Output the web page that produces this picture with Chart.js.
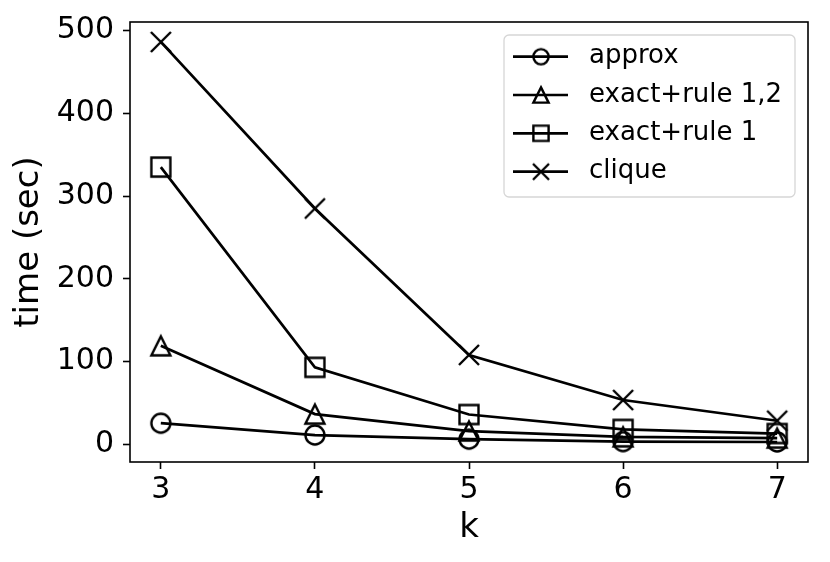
<!DOCTYPE html>
<html><head><meta charset="utf-8">
<script src="https://cdn.jsdelivr.net/npm/chart.js@4.4.1/dist/chart.umd.min.js"></script>
<style>html,body{margin:0;padding:0;background:#fff;overflow:hidden}#wrap{width:830px;height:562px}</style>
</head><body><div id="wrap"><canvas id="c" width="830" height="562"></canvas></div>
<script>
// ---- data ----
const kValues = [3, 4, 5, 6, 7];
const approx = [25.5, 11.2, 6.2, 3.2, 2.8];
const exactRule12 = [119, 36.5, 16, 9, 7.5];
const exactRule1 = [335, 93, 36, 18, 13];
const clique = [486.3, 285, 108, 53.5, 28.5];
const yTickValues = [0, 100, 200, 300, 400, 500];
const seriesNames = ['approx', 'exact+rule 1,2', 'exact+rule 1', 'clique'];
const xTitle = 'k';
const yTitle = 'time (sec)';

const FONT = "'DejaVu Sans', 'Liberation Sans', sans-serif";

function makeMarker(type, s) {
  const size = 30;
  const c = document.createElement('canvas');
  c.width = size; c.height = size;
  const g = c.getContext('2d');
  const m = size / 2;
  g.strokeStyle = '#000';
  g.lineWidth = 2.4;
  g.lineJoin = 'miter';
  g.beginPath();
  if (type === 'circle') {
    g.arc(m, m, 9.5 * s, 0, Math.PI * 2);
  } else if (type === 'triangle') {
    const h = 9.5 * s;
    g.moveTo(m, m - h); g.lineTo(m + h, m + h); g.lineTo(m - h, m + h); g.closePath();
  } else if (type === 'square') {
    const h = 9.5 * s;
    g.rect(m - h, m - h, 2 * h, 2 * h);
  } else {
    const h = 10 * s;
    g.moveTo(m - h, m - h); g.lineTo(m + h, m + h);
    g.moveTo(m - h, m + h); g.lineTo(m + h, m - h);
  }
  g.stroke();
  return c;
}

const markerTypes = ['circle', 'triangle', 'square', 'x'];
const seriesValues = [approx, exactRule12, exactRule1, clique];

const datasets = seriesNames.map((name, i) => ({
  label: name,
  data: kValues.map((k, j) => ({ x: k, y: seriesValues[i][j] })),
  borderColor: '#000',
  backgroundColor: 'rgba(0,0,0,0)',
  borderWidth: 2.7,
  pointStyle: makeMarker(markerTypes[i], 1),
  legendMarker: makeMarker(markerTypes[i], 0.8),
  pointRadius: 11,
  pointHoverRadius: 11,
  tension: 0,
  fill: false,
  clip: false,
  order: seriesNames.length - i
}));

const framePlugin = {
  id: 'frame',
  afterDatasetsDraw(chart) {
    const { ctx, chartArea: a } = chart;
    ctx.save();
    ctx.strokeStyle = '#000';
    ctx.lineWidth = 1.6;
    ctx.strokeRect(a.left, a.top, a.right - a.left, a.bottom - a.top);
    ctx.restore();
  }
};

const legendPlugin = {
  id: 'mplLegend',
  afterDraw(chart) {
    const ctx = chart.ctx;
    const x0 = 504, y0 = 35, w = 291, h = 162, r = 5;
    ctx.save();
    ctx.beginPath();
    ctx.moveTo(x0 + r, y0);
    ctx.arcTo(x0 + w, y0, x0 + w, y0 + h, r);
    ctx.arcTo(x0 + w, y0 + h, x0, y0 + h, r);
    ctx.arcTo(x0, y0 + h, x0, y0, r);
    ctx.arcTo(x0, y0, x0 + w, y0, r);
    ctx.closePath();
    ctx.fillStyle = 'rgba(255,255,255,0.8)';
    ctx.fill();
    ctx.strokeStyle = '#d6d6d6';
    ctx.lineWidth = 1.3;
    ctx.stroke();
    const rows = [56.7, 95, 133.3, 171.7];
    chart.data.datasets.forEach((ds, i) => {
      const y = rows[i];
      ctx.beginPath();
      ctx.strokeStyle = '#000';
      ctx.lineWidth = 2.7;
      ctx.moveTo(513, y); ctx.lineTo(568, y);
      ctx.stroke();
      const mk = ds.legendMarker;
      ctx.drawImage(mk, 541 - mk.width / 2, y - mk.height / 2);
      ctx.fillStyle = '#000';
      ctx.font = '26px ' + FONT;
      ctx.textBaseline = 'middle';
      ctx.textAlign = 'left';
      ctx.fillText(ds.label, 589, y);
    });
    ctx.restore();
  }
};

new Chart(document.getElementById('c'), {
  type: 'line',
  data: { datasets },
  options: {
    responsive: false,
    animation: false,
    events: [],
    layout: { padding: { left: 0, top: 22, right: 22, bottom: 0 } },
    plugins: { legend: { display: false }, tooltip: { enabled: false } },
    scales: {
      x: {
        type: 'linear',
        min: 2.8,
        max: 7.2,
        afterBuildTicks(scale) { scale.ticks = kValues.map(v => ({ value: v })); },
        afterFit(scale) { scale.height = 100; scale.paddingLeft = 0; scale.paddingRight = 0; },
        border: { display: false },
        grid: { drawOnChartArea: false, drawTicks: true, tickLength: 7, tickWidth: 1.6, tickColor: '#000' },
        ticks: { color: '#000', font: { family: FONT, size: 30 }, padding: 3, maxRotation: 0, callback: v => String(v) },
        title: { display: true, text: xTitle, color: '#000', font: { family: FONT, size: 34 }, padding: { top: 0, bottom: 13 } }
      },
      y: {
        type: 'linear',
        min: -21.4,
        max: 510.4,
        afterBuildTicks(scale) { scale.ticks = yTickValues.map(v => ({ value: v })); },
        afterFit(scale) { scale.width = 130; scale.paddingTop = 0; scale.paddingBottom = 0; },
        border: { display: false },
        grid: { drawOnChartArea: false, drawTicks: true, tickLength: 7, tickWidth: 1.6, tickColor: '#000' },
        ticks: { color: '#000', font: { family: FONT, size: 30 }, padding: 9, callback: v => String(v) },
        title: { display: true, text: yTitle, color: '#000', font: { family: FONT, size: 34 }, padding: { top: 9, bottom: 0 } }
      }
    }
  },
  plugins: [framePlugin, legendPlugin]
});
</script>
</body></html>
